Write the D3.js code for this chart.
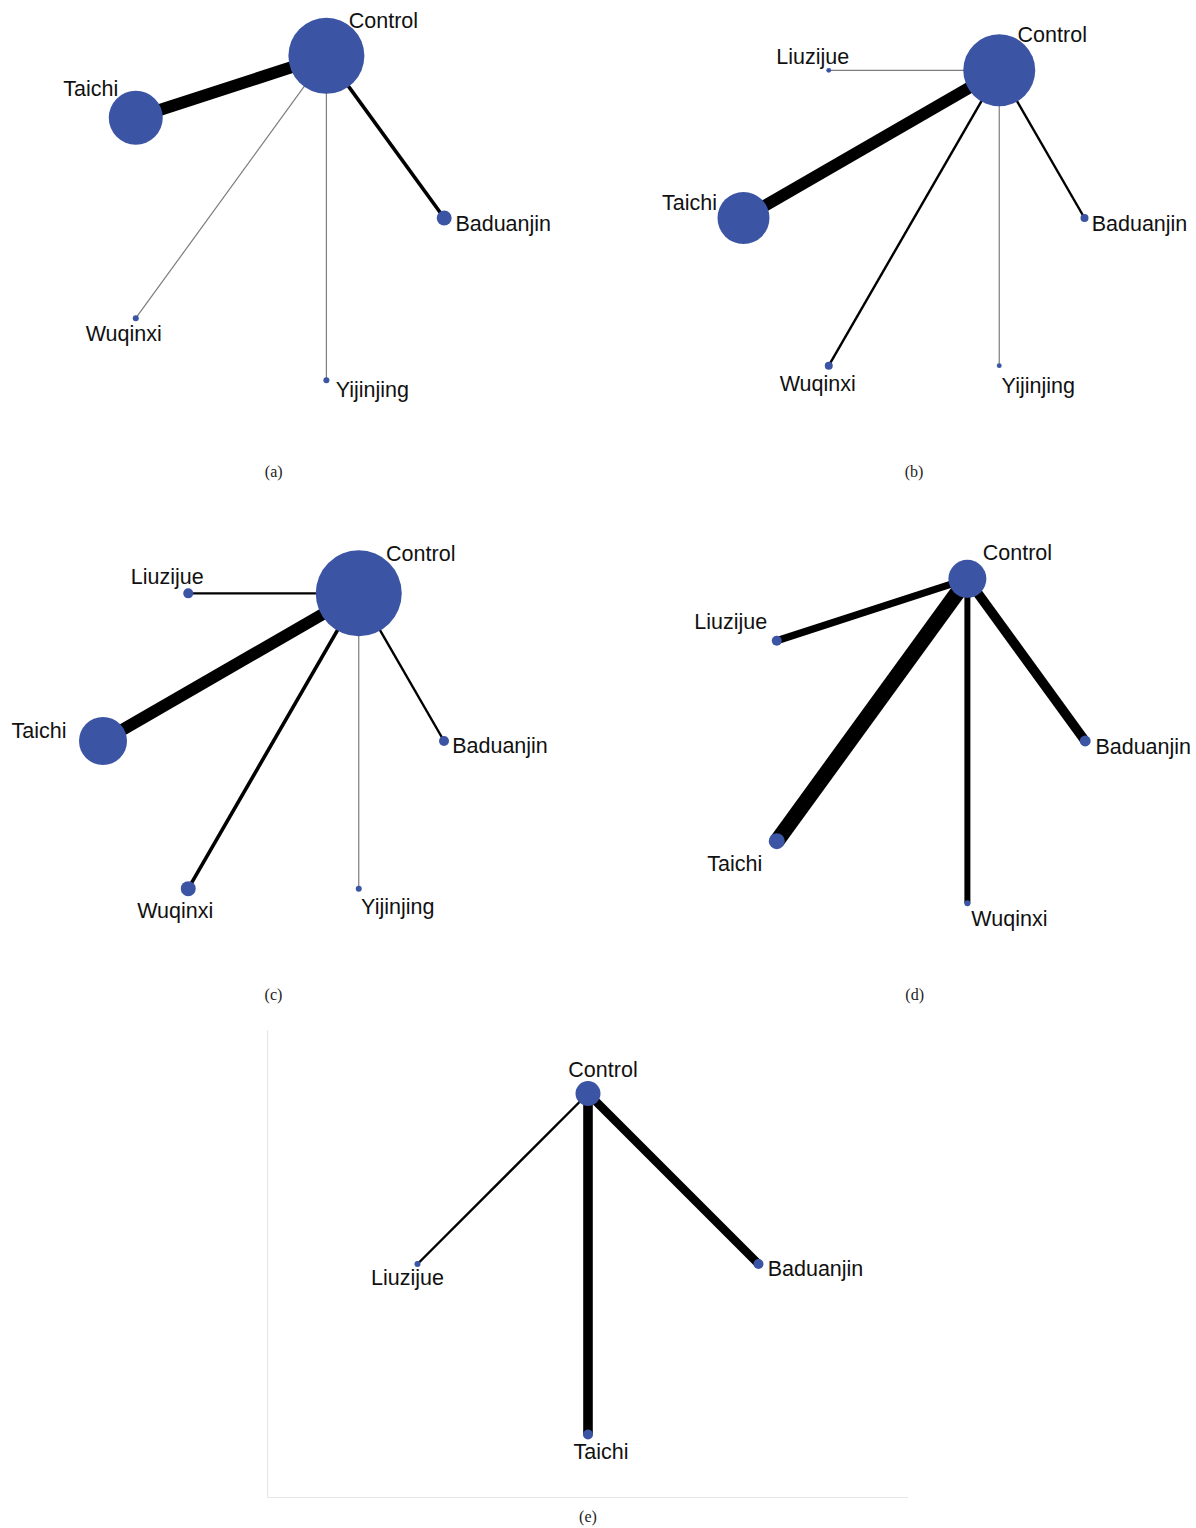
<!DOCTYPE html>
<html>
<head>
<meta charset="utf-8">
<script src="https://cdn.jsdelivr.net/npm/d3@7/dist/d3.min.js"></script>
<style>
  html, body { margin: 0; padding: 0; background: #fff; }
  svg { display: block; }
  .node-label { font-family: "Liberation Sans", Arial, Helvetica, sans-serif; font-size: 21.5px; fill: #111; }
  .caption { font-family: "Liberation Serif", "Times New Roman", serif; font-size: 16px; fill: #222; }
</style>
</head>
<body>
<svg id="chart" width="1196" height="1528"></svg>
<script>
// Network plots of exercise interventions vs control, one per outcome.
// Treatments are listed alphabetically; each is compared only with Control.

const panelNames = ["(a)", "(b)", "(c)", "(d)", "(e)"];

// (a)
const treatmentsA = ["Baduanjin", "Control", "Taichi", "Wuqinxi", "Yijinjing"];
const participantsA = [56, 1444, 729, 9, 9];
const studiesA = [3, 0, 10, 1, 1];

// (b)
const treatmentsB = ["Baduanjin", "Control", "Liuzijue", "Taichi", "Wuqinxi", "Yijinjing"];
const participantsB = [16, 1296, 6, 676, 16, 6];
const studiesB = [2, 0, 1, 10, 2, 1];

// (c)
const treatmentsC = ["Baduanjin", "Control", "Liuzijue", "Taichi", "Wuqinxi", "Yijinjing"];
const participantsC = [25, 1849, 25, 576, 56, 9];
const studiesC = [2, 0, 2, 10, 3, 1];

// (d)
const treatmentsD = ["Baduanjin", "Control", "Liuzijue", "Taichi", "Wuqinxi"];
const participantsD = [30, 361, 25, 64, 9];
const studiesD = [8, 0, 6, 13, 5];

// (e)
const treatmentsE = ["Baduanjin", "Control", "Liuzijue", "Taichi"];
const participantsE = [25, 156, 9, 25];
const studiesE = [7, 0, 2, 8];

const reference = "Control";

// ---- layout -------------------------------------------------------------
const panels = [
  { name: panelNames[0], treatments: treatmentsA, participants: participantsA, studies: studiesA,
    cx: 273.7, cy: 218, captionY: 471,
    labels: { Control: [57, -35], Taichi: [-45, -29], Baduanjin: [59, 6], Wuqinxi: [-12, 16], Yijinjing: [46, 10] } },
  { name: panelNames[1], treatments: treatmentsB, participants: participantsB, studies: studiesB,
    cx: 914, cy: 218, captionY: 471,
    labels: { Control: [53, -35], Liuzijue: [-16, -13], Taichi: [-54, -15], Baduanjin: [55, 6], Wuqinxi: [-11, 18], Yijinjing: [39, 20] } },
  { name: panelNames[2], treatments: treatmentsC, participants: participantsC, studies: studiesC,
    cx: 273.5, cy: 741, captionY: 994,
    labels: { Control: [62, -39], Liuzijue: [-21, -16], Taichi: [-64, -10], Baduanjin: [56, 5], Wuqinxi: [-13, 22], Yijinjing: [39, 18] } },
  { name: panelNames[3], treatments: treatmentsD, participants: participantsD, studies: studiesD,
    cx: 914.7, cy: 741, captionY: 994,
    labels: { Control: [50, -26], Liuzijue: [-46, -19], Taichi: [-42, 23], Baduanjin: [58, 6], Wuqinxi: [42, 16] } },
  { name: panelNames[4], treatments: treatmentsE, participants: participantsE, studies: studiesE,
    cx: 588, cy: 1264, captionY: 1516, frame: true,
    labels: { Control: [15, -24], Liuzijue: [-10, 14], Taichi: [13, 17], Baduanjin: [57, 5] } }
];

const ringRadius = 170.5;
const nodeColor = "#3b54a4";

// shared size scales so panels are comparable
const rScale = d3.scaleSqrt().domain([0, 1849]).range([0, 43]);
const wScale = d3.scaleLinear().domain([0, 1]).range([0, 1.2]);

const svg = d3.select("#chart");

panels.forEach(p => {
  const g = svg.append("g");
  const x = d3.scaleLinear().domain([-1, 1]).range([p.cx - ringRadius, p.cx + ringRadius]);
  const y = d3.scaleLinear().domain([-1, 1]).range([p.cy + ringRadius, p.cy - ringRadius]);
  const n = p.treatments.length;

  // nodes evenly spaced on a circle, counter-clockwise from 3 o'clock
  const nodes = p.treatments.map((t, i) => {
    const a = 2 * Math.PI * i / n;
    return { name: t, n: p.participants[i], k: p.studies[i], px: x(Math.cos(a)), py: y(Math.sin(a)) };
  });
  const ref = nodes.find(d => d.name === reference);
  const links = nodes.filter(d => d.name !== reference);

  if (p.frame) {
    const f = g.append("g").attr("stroke", "#e6e8e8").attr("stroke-width", 1.2).attr("fill", "none");
    f.append("line").attr("x1", 267.5).attr("x2", 267.5).attr("y1", 1030).attr("y2", 1497.5);
    f.append("line").attr("x1", 267.5).attr("x2", 908).attr("y1", 1497.5).attr("y2", 1497.5);
  }

  g.append("g").selectAll("line").data(links).join("line")
    .attr("x1", ref.px).attr("y1", ref.py)
    .attr("x2", d => d.px).attr("y2", d => d.py)
    .attr("stroke-width", d => wScale(d.k))
    .attr("stroke", d => wScale(d.k) < 1.5 ? "#7c7c7c" : "#000");

  g.append("g").selectAll("circle").data(nodes).join("circle")
    .attr("cx", d => d.px).attr("cy", d => d.py)
    .attr("r", d => Math.max(2.2, rScale(d.n)))
    .attr("fill", nodeColor);

  g.append("g").selectAll("text").data(nodes).join("text")
    .attr("class", "node-label")
    .attr("x", d => d.px + p.labels[d.name][0])
    .attr("y", d => d.py + p.labels[d.name][1])
    .attr("text-anchor", "middle")
    .attr("dominant-baseline", "central")
    .text(d => d.name);

  g.append("text").attr("class", "caption")
    .attr("x", p.cx).attr("y", p.captionY)
    .attr("text-anchor", "middle").attr("dominant-baseline", "central")
    .text(p.name);
});
</script>
</body>
</html>
